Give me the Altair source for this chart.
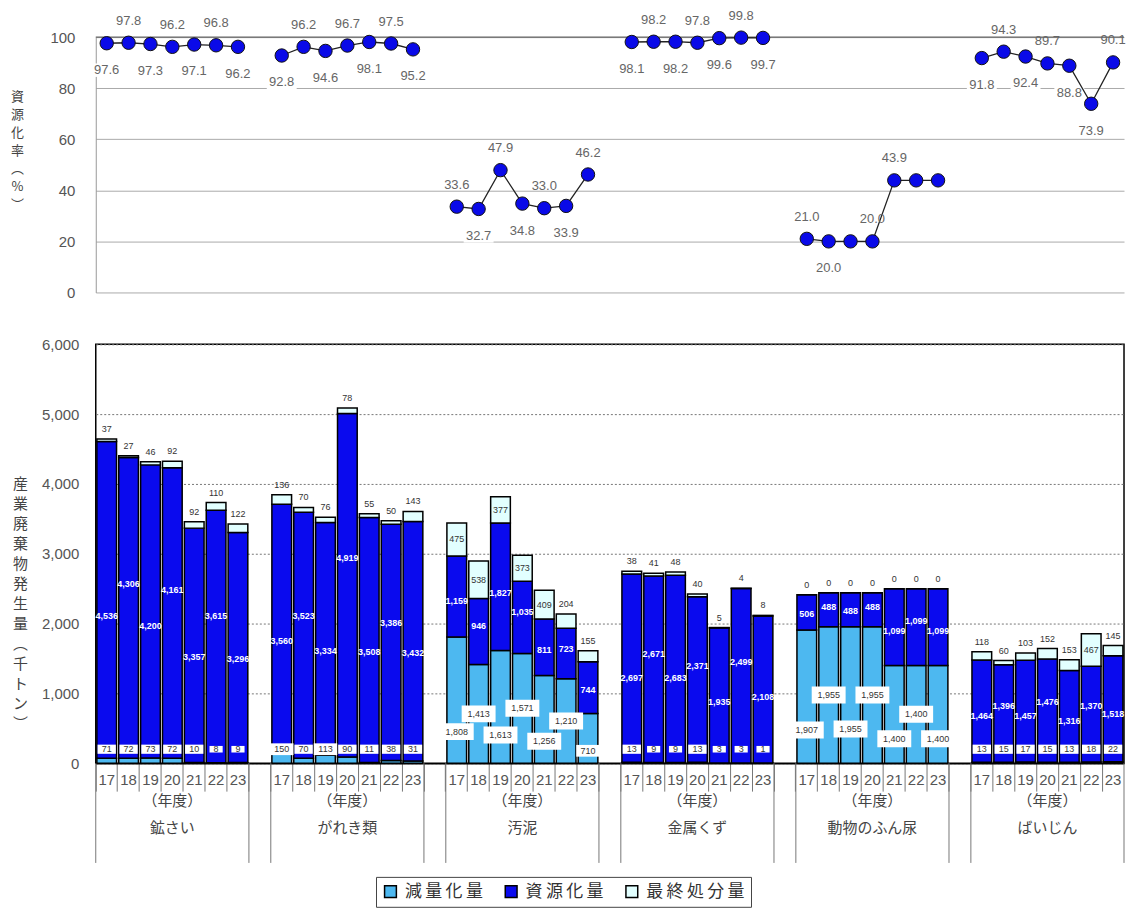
import altair as alt
import pandas as pd

categories = ["鉱さい", "がれき類", "汚泥", "金属くず", "動物のふん尿", "ばいじん"]
years = ["17", "18", "19", "20", "21", "22", "23"]
series = ["減量化量", "資源化量", "最終処分量"]

# 資源化率 (%)
rate_pct = [
    [97.6, 97.8, 97.3, 96.2, 97.1, 96.8, 96.2],
    [92.8, 96.2, 94.6, 96.7, 98.1, 97.5, 95.2],
    [33.6, 32.7, 47.9, 34.8, 33.0, 33.9, 46.2],
    [98.1, 98.2, 98.2, 97.8, 99.6, 99.8, 99.7],
    [21.0, 20.0, 20.0, 20.0, 43.9, 43.9, 43.9],
    [91.8, 94.3, 92.4, 89.7, 88.8, 73.9, 90.1],
]
# 減量化量 (千トン)
reduced = [
    [71, 72, 73, 72, 10, 8, 9],
    [150, 70, 113, 90, 11, 38, 31],
    [1808, 1413, 1613, 1571, 1256, 1210, 710],
    [13, 9, 9, 13, 3, 3, 1],
    [1907, 1955, 1955, 1955, 1400, 1400, 1400],
    [13, 15, 17, 15, 13, 18, 22],
]
# 資源化量 (千トン)
recycled = [
    [4536, 4306, 4200, 4161, 3357, 3615, 3296],
    [3560, 3523, 3334, 4919, 3508, 3386, 3432],
    [1159, 946, 1827, 1035, 811, 723, 744],
    [2697, 2671, 2683, 2371, 1935, 2499, 2108],
    [506, 488, 488, 488, 1099, 1099, 1099],
    [1464, 1396, 1457, 1476, 1316, 1370, 1518],
]
# 最終処分量 (千トン)
final = [
    [37, 27, 46, 92, 92, 110, 122],
    [136, 70, 76, 78, 55, 50, 143],
    [475, 538, 377, 373, 409, 204, 155],
    [38, 41, 48, 40, 5, 4, 8],
    [0, 0, 0, 0, 0, 0, 0],
    [118, 60, 103, 152, 153, 467, 145],
]

# ---- layout / style (not data) ----
rate_label_side = ["dududud", "dududud", "udududu", "dududud", "ud.uu..", "dududdu"]
colors = ["#4DB8F0", "#0A0AEE", "#E2FFFF"]
W = 1031
TOP_H = 256
BOT_H = 420
NSLOT = len(categories) * 8 - 1
STEP = W / NSLOT
NUM_FONT = "Liberation Sans"
JP_FONT = "Noto Sans CJK JP"
BOX = "M-1,-0.5L1,-0.5L1,0.5L-1,0.5Z"

keys = []
for i, c in enumerate(categories):
    if i > 0:
        keys.append(f"gap{i}")
    for y in years:
        keys.append(f"{c}|{y}")

xscale = alt.Scale(domain=keys, paddingInner=0, paddingOuter=0)

rate_rows, seg_rows, lab_rows = [], [], []
for ci, c in enumerate(categories):
    for yi, y in enumerate(years):
        k = f"{c}|{y}"
        r = rate_pct[ci][yi]
        txt = f"{r:.1f}"
        rate_rows.append(dict(key=k, cat=c, rate=r, side=rate_label_side[ci][yi], label=txt))
        a, b, f = reduced[ci][yi], recycled[ci][yi], final[ci][yi]
        seg_rows += [
            dict(key=k, series=series[0], y0=0, y1=a),
            dict(key=k, series=series[1], y0=a, y1=a + b),
            dict(key=k, series=series[2], y0=a + b, y1=a + b + f),
        ]
        # label for 減量化量 (boxed)
        if a >= 500:
            ly = a * (0.25 if yi % 2 == 0 else 0.5)
        else:
            ly = 200
        t = f"{a:,}"
        lab_rows.append(dict(key=k, kind="red", y=ly, text=t, bs=(8 + 5.2 * len(t)) ** 2))
        # label for 資源化量 (white text inside, staggered)
        lab_rows.append(dict(key=k, kind="rec", y=a + b * (0.45 if yi % 2 == 0 else 0.58),
                             text=f"{b:,}", bs=0))
        # label for 最終処分量
        if f >= 250:
            lab_rows.append(dict(key=k, kind="fin_in", y=a + b + f / 2, text=f"{f:,}", bs=0))
        else:
            lab_rows.append(dict(key=k, kind="fin_top", y=a + b + f, text=f"{f:,}", bs=0))

rate_df = pd.DataFrame(rate_rows)
seg_df = pd.DataFrame(seg_rows)
lab_df = pd.DataFrame(lab_rows)
cat_df = pd.DataFrame({"key": [f"{c}|20" for c in categories],
                       "text": [f"（年度）\n{c}" for c in categories]})
edge_l = pd.DataFrame({"key": [f"{c}|17" for c in categories]})
edge_r = pd.DataFrame({"key": [f"{c}|23" for c in categories]})

# ---------------- top: 資源化率 ----------------
rscale = alt.Scale(domain=[0, 100])
top_axis = alt.Axis(values=[0, 20, 40, 60, 80, 100], grid=True, gridColor="#AAAAAA",
                    domainColor="#999999", ticks=False, labelFont=NUM_FONT, labelFontSize=15,
                    labelColor="#555555", labelPadding=21,
                    title=list("資源化率︵%︶"), titleAngle=0, titleX=-79, titleY=54,
                    titleAlign="center", titleBaseline="top", titleLineHeight=18,
                    titleFont=JP_FONT, titleFontSize=13, titleFontWeight="normal",
                    titleColor="#444444")
ty = alt.Y("rate:Q", scale=rscale, axis=top_axis)
tx = alt.X("key:N", scale=xscale, axis=None)

rule100 = alt.Chart(pd.DataFrame({"v": [100]})).mark_rule(color="#666666", strokeWidth=1.2).encode(
    y=alt.Y("v:Q", scale=rscale, axis=top_axis))
base = alt.Chart(rate_df).encode(x=tx, y=ty)
labeled = base.transform_filter("datum.side != '.'")
box_d = labeled.transform_filter("datum.side == 'd'").mark_point(
    shape="M-1,-0.45L1,-0.45L1,0.45L-1,0.45Z", size=900, filled=True, color="white", opacity=1, yOffset=27)
line = base.mark_line(color="#222222", strokeWidth=1.3).encode(detail="cat:N")
pts = base.mark_circle(size=180, color="#0A0AE8", opacity=1, stroke="#111111", strokeWidth=1)
txt_u = labeled.transform_filter("datum.side == 'u'").mark_text(
    font=NUM_FONT, fontSize=13, color="#666666", dy=-22).encode(text="label:N")
txt_d = labeled.transform_filter("datum.side == 'd'").mark_text(
    font=NUM_FONT, fontSize=13, color="#666666", dy=27).encode(text="label:N")

top = alt.layer(rule100, box_d, line, pts, txt_u, txt_d).properties(width=W, height=TOP_H)

# ---------------- bottom: 発生量 ----------------
x_axis = alt.Axis(title=None, labelExpr="indexof(datum.value, '|') > 0 ? split(datum.value, '|')[1] : ''",
                  labelAngle=0, labelFont=NUM_FONT, labelFontSize=15, labelColor="#555555",
                  labelPadding=-19, tickSize=28, tickColor="#777777", bandPosition=0,
                  domainColor="black", domainWidth=1.5, labelBaseline="top")
bx = alt.X("key:N", scale=xscale, axis=x_axis)
yscale = alt.Scale(domain=[0, 6000])
y_axis = alt.Axis(values=[0, 1000, 2000, 3000, 4000, 5000, 6000], format=",d", grid=True,
                  gridColor="#777777", gridDash=[2, 2], domain=False, ticks=False,
                  labelFont=NUM_FONT, labelFontSize=15, labelColor="#555555", labelPadding=17,
                  title=list("産業廃棄物発生量︵千トン︶"), titleAngle=0, titleX=-76, titleY=133,
                  titleAlign="center", titleBaseline="top", titleLineHeight=20,
                  titleFont=JP_FONT, titleFontSize=15, titleFontWeight="normal",
                  titleColor="#444444")
by = alt.Y("y0:Q", scale=yscale, axis=y_axis)

bars = alt.Chart(seg_df).mark_bar(stroke="black", strokeWidth=1.5,
                                  width=alt.RelativeBandSize(0.9)).encode(
    x=bx, y=by, y2="y1:Q",
    color=alt.Color("series:N", scale=alt.Scale(domain=series, range=colors),
                    legend=alt.Legend(title=None, orient="none", legendX=281, legendY=842,
                                      direction="horizontal", symbolType="square", symbolSize=140,
                                      symbolStrokeColor="black", symbolStrokeWidth=1.5,
                                      labelFont=JP_FONT, labelFontSize=17, labelColor="#333333",
                                      labelExpr="join(split(datum.label, ''), '\u2009')",
                                      strokeColor="#444444", fillColor="white", padding=6,
                                      columnPadding=18, labelOffset=6)),
)
lb = alt.Chart(lab_df).encode(x=bx, y=alt.Y("y:Q", scale=yscale, axis=y_axis))
red_box = lb.transform_filter("datum.kind == 'red'").mark_point(
    shape=BOX, filled=True, color="white", opacity=1).encode(size=alt.Size("bs:Q", scale=None))
red_txt = lb.transform_filter("datum.kind == 'red'").mark_text(
    font=NUM_FONT, fontSize=9, color="#333333").encode(text="text:N")
rec_txt = lb.transform_filter("datum.kind == 'rec'").mark_text(
    font=NUM_FONT, fontSize=9, fontWeight="bold", color="white").encode(text="text:N")
fin_in = lb.transform_filter("datum.kind == 'fin_in'").mark_text(
    font=NUM_FONT, fontSize=9, color="#333333").encode(text="text:N")
fin_top = lb.transform_filter("datum.kind == 'fin_top'").mark_text(
    font=NUM_FONT, fontSize=9, color="#333333", baseline="bottom", dy=-5).encode(text="text:N")

cat_txt = alt.Chart(cat_df).mark_text(font=JP_FONT, fontSize=15, color="#444444", lineBreak="\n",
                                      lineHeight=27, baseline="top").encode(
    x=bx, y=alt.value(BOT_H + 31), text="text:N")
rule_l = alt.Chart(edge_l).mark_rule(color="#777777", xOffset=-STEP / 2).encode(
    x=bx, y=alt.value(BOT_H), y2=alt.value(BOT_H + 100))
rule_r = alt.Chart(edge_r).mark_rule(color="#777777", xOffset=STEP / 2).encode(
    x=bx, y=alt.value(BOT_H), y2=alt.value(BOT_H + 100))

bottom = alt.layer(bars, red_box, red_txt, rec_txt, fin_in, fin_top, cat_txt, rule_l, rule_r).properties(
    width=W, height=BOT_H, view=alt.ViewBackground(stroke="black", strokeWidth=1.5))

chart = alt.vconcat(top, bottom, spacing=52, bounds="flush").properties(
    padding={"left": 2, "top": 0, "right": 2, "bottom": 2}
).configure_view(stroke=None)

chart.save("out.html", embed_options={"renderer": "svg", "actions": False})
